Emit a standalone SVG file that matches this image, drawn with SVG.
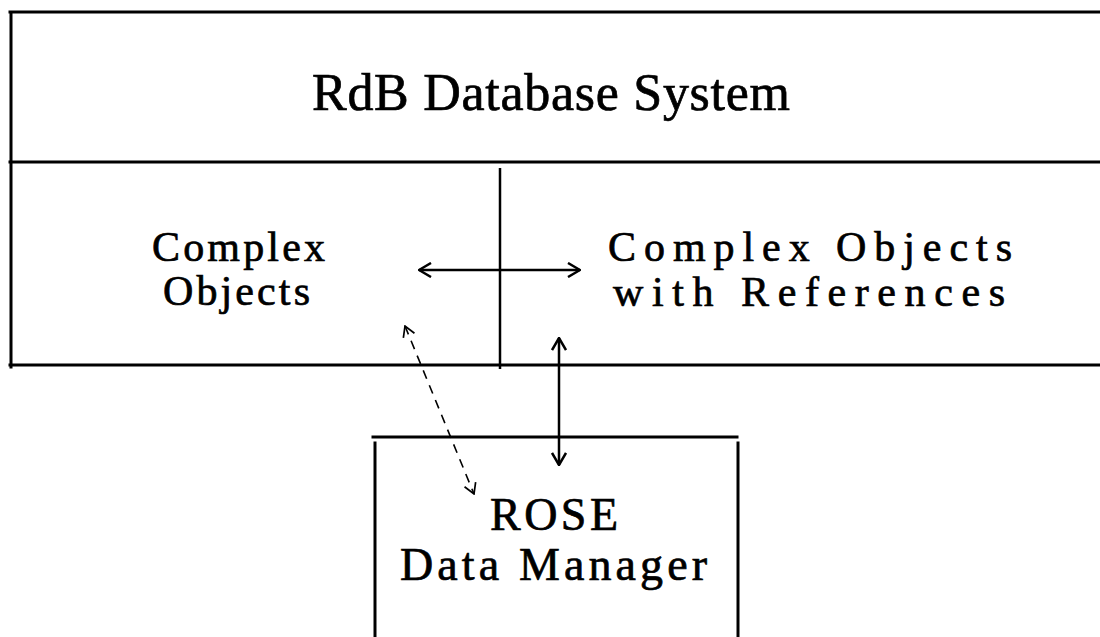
<svg xmlns="http://www.w3.org/2000/svg" width="1100" height="637" viewBox="0 0 1100 637">
<style>
.frame{stroke:#000;stroke-width:3;fill:none;stroke-linecap:square}
.thin{stroke:#000;stroke-width:2.5;fill:none}
.conn{stroke:#000;stroke-width:2.5;fill:none}
.dash{stroke:#000;stroke-width:1.6;fill:none;stroke-dasharray:9 7}
text{font-family:"Liberation Serif","Times New Roman",serif;fill:#000;stroke:#000;stroke-width:0.7}
.big{font-size:52px}
.mid{font-size:42px}
.rose{font-size:46px}
</style>
<defs>
<marker id="ah" viewBox="0 0 14 16" refX="13" refY="8" markerWidth="14" markerHeight="16" markerUnits="userSpaceOnUse" orient="auto-start-reverse">
<path d="M1,1 L13,8 L1,15" fill="none" stroke="#000" stroke-width="2.5"/>
</marker>
<marker id="ahd" viewBox="0 0 14 16" refX="13" refY="8" markerWidth="12" markerHeight="14" markerUnits="userSpaceOnUse" orient="auto-start-reverse">
<path d="M1,1 L13,8 L1,15" fill="none" stroke="#000" stroke-width="2"/>
</marker>
</defs>
<g id="rdb">
<line class="frame" x1="10" y1="12" x2="1100" y2="12"/>
<line class="frame" x1="11" y1="14" x2="11" y2="367"/>
<line class="frame" x1="10" y1="162" x2="1100" y2="162"/>
<line class="frame" x1="10" y1="365" x2="1100" y2="365"/>
<text class="big" x="312" y="110" textLength="478" lengthAdjust="spacing">RdB Database System</text>
</g>
<g id="complex-objects">
<text class="mid" x="152" y="261" textLength="173" lengthAdjust="spacing">Complex</text>
<text class="mid" x="163" y="305" textLength="147" lengthAdjust="spacing">Objects</text>
</g>
<g id="divider">
<line class="thin" x1="500" y1="168" x2="500" y2="369"/>
</g>
<g id="complex-objects-refs">
<text class="mid" x="608" y="261" textLength="404" lengthAdjust="spacing">Complex Objects</text>
<text class="mid" x="613" y="306" textLength="392" lengthAdjust="spacing">with References</text>
</g>
<g id="rose">
<line class="frame" x1="373" y1="437" x2="737" y2="437"/>
<line class="frame" x1="375" y1="443" x2="375" y2="637"/>
<line class="frame" x1="738" y1="443" x2="738" y2="637"/>
<text class="rose" x="490" y="530" textLength="128" lengthAdjust="spacing">ROSE</text>
<text class="rose" x="400" y="580" textLength="307" lengthAdjust="spacing">Data Manager</text>
</g>
<g id="connectors">
<line class="conn" x1="419" y1="270" x2="580" y2="270" marker-start="url(#ah)" marker-end="url(#ah)"/>
<line class="conn" x1="559" y1="338" x2="559" y2="465" marker-start="url(#ah)" marker-end="url(#ah)"/>
<line class="dash" x1="405" y1="326" x2="474" y2="494" marker-start="url(#ahd)" marker-end="url(#ahd)"/>
</g>
</svg>
